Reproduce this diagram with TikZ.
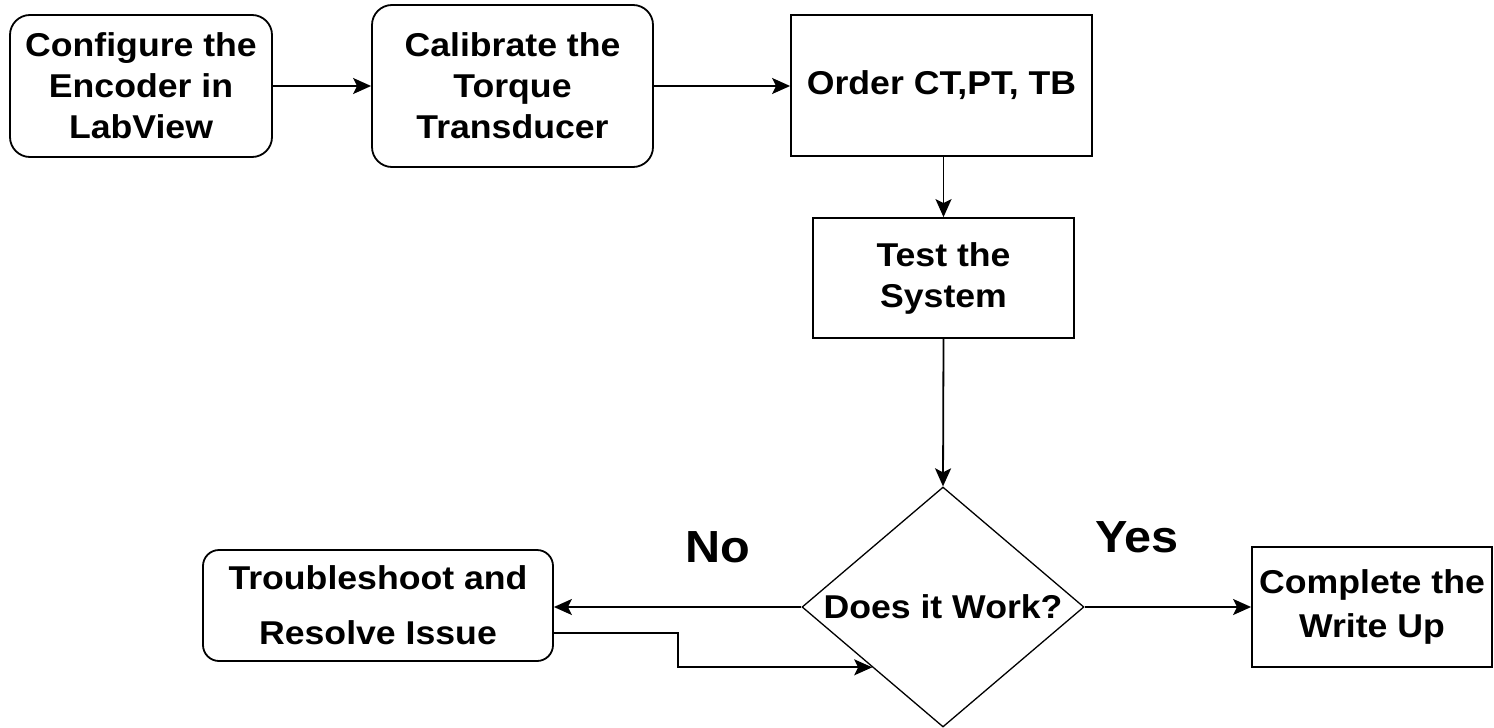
\documentclass[tikz,border=0pt]{standalone}
\usepackage{fontspec}
\setmainfont{Liberation Sans}[FakeStretch=1.08]
\usetikzlibrary{shapes.geometric,arrows.meta}
\begin{document}
\begin{tikzpicture}[x=1pt,y=-1pt,
  box/.style={draw=black, line width=1.8pt, fill=white, inner sep=0pt, align=center,
    font=\fontsize{33}{41}\selectfont\bfseries},
  rbox/.style={box, rounded corners=20pt},
  dec/.style={box, diamond, line width=1.3pt},
  txt/.style={inner sep=0pt, align=center, font=\fontsize{33}{41}\selectfont\bfseries},
  lbl/.style={inner sep=0pt, font=\fontsize{45}{50}\selectfont\bfseries},
  arr/.style={line width=1.8pt, -{Stealth[length=18pt,width=16pt,inset=4pt]}}]
\useasboundingbox[fill=white] (0,0) rectangle (1494,728);

\node[rbox, minimum width=262pt, minimum height=142pt] (c1) at (141,86) {Configure the\\Encoder in\\LabView};
\node[rbox, minimum width=281pt, minimum height=162pt] (c2) at (512.5,86) {Calibrate the\\Torque\\Transducer};
\node[box, minimum width=301pt, minimum height=141pt] (c3) at (941.5,85.5) {Order CT,PT, TB};
\node[box, minimum width=261pt, minimum height=120pt] (c4) at (943.5,278) {Test the\\System};
\node[dec, minimum width=282pt, minimum height=240pt] (d) at (943,607) {};
\node[txt] (dt) at (d.center) {Does it Work?};
\node[rbox, rounded corners=16pt, minimum width=350pt, minimum height=111pt,
  font=\fontsize{33}{55}\selectfont\bfseries] (c5) at (378,605.5) {Troubleshoot and\\Resolve Issue};
\node[box, minimum width=240pt, minimum height=120pt,
  font=\fontsize{33}{44}\selectfont\bfseries] (c6) at (1372,607) {Complete the\\Write Up};

\node[lbl] (no) at (718,547) {No};
\node[lbl] (yes) at (1137,537) {Yes};

\draw[arr] (c1.east) -- (c2.west);
\draw[arr] (c2.east) -- (c3.west |- c2.east);
\draw[arr] (c3.south -| c4.north) -- (c4.north);
\draw[arr] (c4.south) -- (d.north);
\draw[arr] (d.west) -- (c5.east |- d.west);
\draw[arr] (d.east) -- (c6.west);
\draw[arr] ([yshift=-27.5pt]c5.east) -- ++(124,0) |- (d.south west);
\end{tikzpicture}
\end{document}
